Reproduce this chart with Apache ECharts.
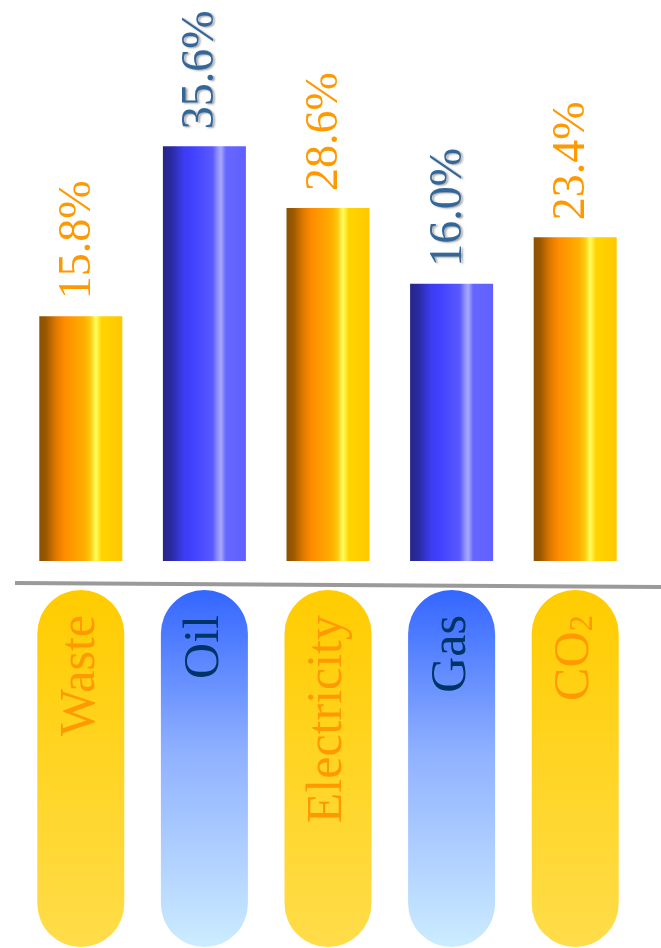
<!DOCTYPE html>
<html>
<head>
<meta charset="utf-8">
<script src="https://cdn.jsdelivr.net/npm/echarts@6/dist/echarts.min.js"></script>
<style>
html,body{margin:0;padding:0;background:#fff;}
#main{width:661px;height:948px;}
</style>
</head>
<body>
<div id="main"></div>
<script>
// Data
var categories = ['Waste', 'Oil', 'Electricity', 'Gas', 'CO2'];
var valueLabels = [15.8, 35.6, 28.6, 16.0, 23.4];      // printed percentages
var barLengths = [21.0, 35.6, 30.3, 23.8, 27.8];       // drawn bar lengths (same % scale)
var colorGroup = ['orange', 'blue', 'orange', 'blue', 'orange'];

var orangeBar = {type:'linear',x:0,y:0,x2:1,y2:0,colorStops:[
  {offset:0,color:'#8a5200'},{offset:0.08,color:'#9a5800'},{offset:0.2,color:'#e07800'},
  {offset:0.3,color:'#ff8c00'},{offset:0.55,color:'#ffb000'},{offset:0.62,color:'#ffcc10'},
  {offset:0.68,color:'#ffff60'},{offset:0.75,color:'#ffd400'},{offset:1,color:'#ffc800'}]};
var blueBar = {type:'linear',x:0,y:0,x2:1,y2:0,colorStops:[
  {offset:0,color:'#25258a'},{offset:0.1,color:'#2a2aa0'},{offset:0.25,color:'#3c3cf0'},
  {offset:0.35,color:'#4040ff'},{offset:0.6,color:'#5a5aff'},{offset:0.66,color:'#9090ff'},
  {offset:0.7,color:'#a8a8ff'},{offset:0.76,color:'#6666ff'},{offset:1,color:'#6060ff'}]};
var orangePill = {type:'linear',x:0,y:0,x2:0,y2:1,colorStops:[
  {offset:0,color:'#ffcc00'},{offset:1,color:'#ffdd4a'}]};
var bluePill = {type:'linear',x:0,y:0,x2:0,y2:1,colorStops:[
  {offset:0,color:'#3366ff'},{offset:0.45,color:'#8fb0ff'},{offset:1,color:'#ccecff'}]};

var serif = '"Liberation Serif", "Times New Roman", serif';

var barData = barLengths.map(function (v, i) {
  var isBlue = colorGroup[i] === 'blue';
  return {
    value: v,
    itemStyle: {color: isBlue ? blueBar : orangeBar},
    label: {
      color: isBlue ? '#336699' : '#ff9900',
      textShadowColor: isBlue ? 'rgba(0,0,0,0.35)' : 'transparent',
      textShadowBlur: isBlue ? 2 : 0,
      textShadowOffsetX: isBlue ? 2 : 0,
      textShadowOffsetY: isBlue ? 1 : 0
    }
  };
});

var pillData = categories.map(function (c, i) {
  var isBlue = colorGroup[i] === 'blue';
  return {
    value: 1,
    itemStyle: {color: isBlue ? bluePill : orangePill},
    label: {color: isBlue ? '#003366' : '#ff9900'}
  };
});

var chart = echarts.init(document.getElementById('main'), null, {renderer: 'canvas'});
chart.setOption({
  animation: false,
  backgroundColor: '#ffffff',
  grid: [
    {left: 19, right: 24, top: 95, bottom: 387},
    {left: 19, right: 24, top: 590, bottom: 1}
  ],
  xAxis: [
    {type: 'category', gridIndex: 0, data: categories, show: false},
    {type: 'category', gridIndex: 1, data: categories, show: false}
  ],
  yAxis: [
    {type: 'value', gridIndex: 0, min: 0, max: 40, show: false},
    {type: 'value', gridIndex: 1, min: 0, max: 1, show: false}
  ],
  graphic: [{
    type: 'line', z: 10,
    shape: {x1: 15, y1: 583, x2: 661, y2: 587},
    style: {stroke: '#9a9a9a', lineWidth: 4}
  }],
  series: [
    {
      type: 'bar', xAxisIndex: 0, yAxisIndex: 0,
      barWidth: 83,
      data: barData,
      label: {
        show: true, position: 'top', distance: 17, rotate: 90,
        align: 'left', verticalAlign: 'middle', offset: [0, -3],
        fontFamily: serif, fontSize: 46,
        formatter: function (p) { return valueLabels[p.dataIndex].toFixed(1) + '%'; }
      }
    },
    {
      type: 'bar', xAxisIndex: 1, yAxisIndex: 1,
      barWidth: 87,
      data: pillData,
      itemStyle: {borderRadius: 43.5},
      label: {
        show: true, position: 'insideTop', distance: 25, rotate: 90,
        align: 'right', verticalAlign: 'middle',
        fontFamily: serif, fontSize: 50,
        formatter: function (p) {
          return p.name === 'CO2' ? '{m|CO}{sub|2}' : p.name;
        },
        rich: {
          m: {fontFamily: serif, fontSize: 50},
          sub: {fontFamily: serif, fontSize: 33, verticalAlign: 'bottom', padding: [14, 0, 0, 0]}
        }
      }
    }
  ]
});
</script>
</body>
</html>
